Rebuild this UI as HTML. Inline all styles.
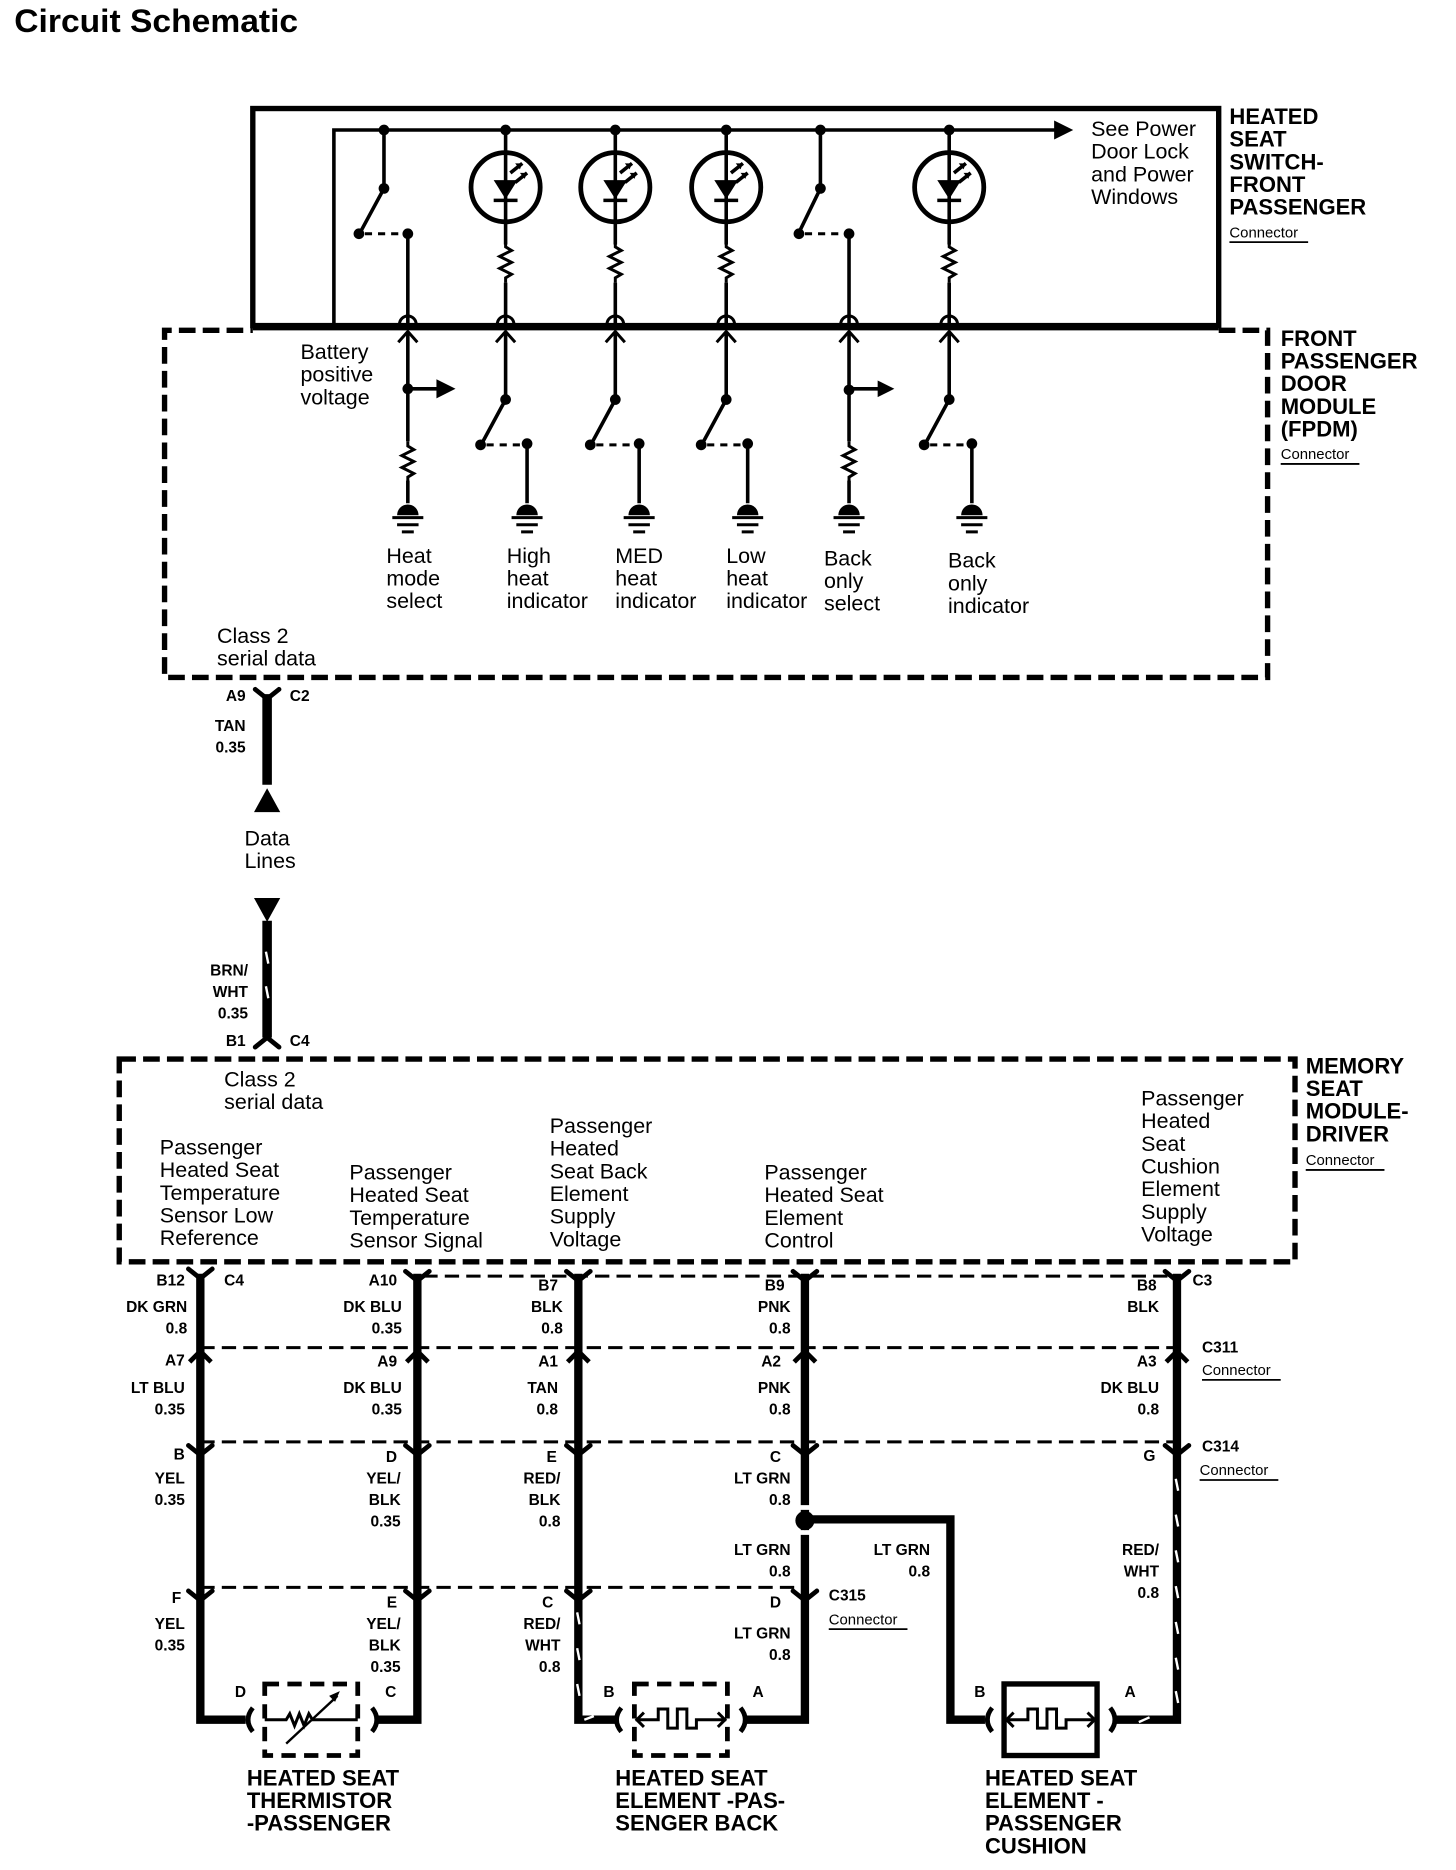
<!DOCTYPE html>
<html><head><meta charset="utf-8"><style>
html,body{margin:0;padding:0;background:#fff;}
svg{display:block;}
text{font-family:"Liberation Sans",Arial,sans-serif;fill:#000;}
.t{font-size:18px;}
.b{font-size:13px;font-weight:bold;}
.bl{font-size:18.5px;font-weight:bold;}
.c{font-size:12.5px;}
</style></head><body>
<svg width="1456" height="1870" viewBox="0 0 1221 1568" preserveAspectRatio="none" xmlns="http://www.w3.org/2000/svg">
<defs>
<g id="dot"><circle r="4.5" fill="#000"/></g>
<path id="res" d="M0,0 l0,4 l5,3 l-10,5 l10,5 l-10,5 l10,5 l-5,3 l0,4" fill="none" stroke="#000" stroke-width="2.5"/>
<g id="gnd"><path d="M-9,0 a9,9 0 0 1 18,0 z" fill="#000"/><path d="M-13,2 h26 M-9,8 h18 M-5,14 h10" stroke="#000" stroke-width="2.5"/></g>
<g id="led"><circle r="29" fill="none" stroke="#000" stroke-width="4"/><path d="M-10,-6 h20 l-10,16 z" fill="#000"/><path d="M-10,11 h20" stroke="#000" stroke-width="3"/><path d="M4,-12 l10,-8 M8,-4 l10,-8" stroke="#000" stroke-width="3"/><path d="M14,-20 l-6,0 l4,5z M18,-12 l-6,0 l4,5z" fill="#000"/></g>
<g id="conn"><path d="M-7,-1 a7,7 0 0 1 14,0" fill="none" stroke="#000" stroke-width="2.5"/><path d="M-8,14 l8,-9 l8,9" fill="none" stroke="#000" stroke-width="2.5"/></g>
<g id="vv"><path d="M-10,-6 l10,8 l10,-8" fill="none" stroke="#000" stroke-width="4" stroke-linecap="round"/></g>
<g id="up"><path d="M-9,8 l9,-9 l9,9" fill="none" stroke="#000" stroke-width="4"/></g>
</defs>

<text x="12" y="27" textLength="238" lengthAdjust="spacingAndGlyphs" style="font-size:27px;font-weight:bold">Circuit Schematic</text>

<rect x="212" y="91" width="810" height="182" fill="none" stroke="#000" stroke-width="4.5"/>
<path d="M1022,277 H1063 V568 H138 V277 H212" fill="none" stroke="#000" stroke-width="4.5" stroke-dasharray="14,6"/>
<path d="M212,274 H1022" stroke="#000" stroke-width="6"/>

<path d="M280,273 V109 H886" fill="none" stroke="#000" stroke-width="3"/>
<path d="M884,101 l16,8 l-16,8z" fill="#000"/>

<use href="#dot" x="322" y="109"/>
<path d="M322,109 V158 L302,195" fill="none" stroke="#000" stroke-width="3"/>
<use href="#dot" x="322" y="158"/><use href="#dot" x="301" y="196"/>
<path d="M306,196 H338" stroke="#000" stroke-width="2.5" stroke-dasharray="6,5"/>
<use href="#dot" x="342" y="196"/>
<path d="M342,196 V273" stroke="#000" stroke-width="3"/>
<use href="#dot" x="688" y="109"/>
<path d="M688,109 V158 L670,195" fill="none" stroke="#000" stroke-width="3"/>
<use href="#dot" x="688" y="158"/><use href="#dot" x="670" y="196"/>
<path d="M675,196 H708" stroke="#000" stroke-width="2.5" stroke-dasharray="6,5"/>
<use href="#dot" x="712" y="196"/>
<path d="M712,196 V273" stroke="#000" stroke-width="3"/>
<g stroke="#000" stroke-width="3">
<path d="M424,109 V205 M424,237 V273"/><path d="M516,109 V205 M516,237 V273"/><path d="M609,109 V205 M609,237 V273"/><path d="M796,109 V205 M796,237 V273"/>
</g>
<use href="#dot" x="424" y="109"/><use href="#dot" x="516" y="109"/><use href="#dot" x="609" y="109"/><use href="#dot" x="796" y="109"/>
<use href="#led" x="424" y="157"/><use href="#led" x="516" y="157"/><use href="#led" x="609" y="157"/><use href="#led" x="796" y="157"/>
<use href="#res" x="424" y="203"/><use href="#res" x="516" y="203"/><use href="#res" x="609" y="203"/><use href="#res" x="796" y="203"/>
<use href="#conn" x="342" y="273"/><use href="#conn" x="424" y="273"/><use href="#conn" x="516" y="273"/><use href="#conn" x="609" y="273"/><use href="#conn" x="712" y="273"/><use href="#conn" x="796" y="273"/>

<g stroke="#000" stroke-width="3" fill="none">
<path d="M342,278 V370 M342,403 V422"/>
<path d="M342,326 H368"/>
<path d="M712,278 V370 M712,403 V422"/>
<path d="M712,326 H738"/>
<path d="M424,278 V335 L404,372"/><path d="M516,278 V335 L496,372"/><path d="M609,278 V335 L589,372"/><path d="M796,278 V335 L776,372"/>
<path d="M442,372 V422 M536,372 V422 M627,372 V422 M815,372 V422"/>
</g>
<path d="M366,318 l16,8 l-16,8z" fill="#000"/><path d="M736,319 l14,7 l-14,7z" fill="#000"/>
<use href="#dot" x="342" y="326"/><use href="#dot" x="712" y="327"/>
<use href="#res" x="342" y="370"/><use href="#res" x="712" y="370"/>
<g stroke="#000" stroke-width="2.5" stroke-dasharray="6,5">
<path d="M408,373 H438"/><path d="M500,373 H532"/><path d="M593,373 H623"/><path d="M780,373 H811"/>
</g>
<use href="#dot" x="424" y="335"/><use href="#dot" x="516" y="335"/><use href="#dot" x="609" y="335"/><use href="#dot" x="796" y="335"/>
<use href="#dot" x="403" y="373"/><use href="#dot" x="495" y="373"/><use href="#dot" x="588" y="373"/><use href="#dot" x="775" y="373"/>
<use href="#dot" x="442" y="372"/><use href="#dot" x="536" y="372"/><use href="#dot" x="627" y="372"/><use href="#dot" x="815" y="372"/>
<use href="#gnd" x="342" y="432"/><use href="#gnd" x="442" y="432"/><use href="#gnd" x="536" y="432"/><use href="#gnd" x="627" y="432"/><use href="#gnd" x="712" y="432"/><use href="#gnd" x="815" y="432"/>

<g class="t">
<text x="915" y="114">See Power</text><text x="915" y="133">Door Lock</text><text x="915" y="152">and Power</text><text x="915" y="171">Windows</text>
<text x="252" y="301">Battery</text><text x="252" y="320">positive</text><text x="252" y="339">voltage</text>
<text x="324" y="472">Heat</text><text x="324" y="491">mode</text><text x="324" y="510">select</text>
<text x="425" y="472">High</text><text x="425" y="491">heat</text><text x="425" y="510">indicator</text>
<text x="516" y="472">MED</text><text x="516" y="491">heat</text><text x="516" y="510">indicator</text>
<text x="609" y="472">Low</text><text x="609" y="491">heat</text><text x="609" y="510">indicator</text>
<text x="691" y="474">Back</text><text x="691" y="493">only</text><text x="691" y="512">select</text>
<text x="795" y="476">Back</text><text x="795" y="495">only</text><text x="795" y="514">indicator</text>
<text x="182" y="539">Class 2</text><text x="182" y="558">serial data</text>
</g>
<g class="bl">
<text x="1031" y="104">HEATED</text><text x="1031" y="123">SEAT</text><text x="1031" y="142">SWITCH-</text><text x="1031" y="161">FRONT</text><text x="1031" y="180">PASSENGER</text>
<text x="1074" y="290">FRONT</text><text x="1074" y="309">PASSENGER</text><text x="1074" y="328">DOOR</text><text x="1074" y="347">MODULE</text><text x="1074" y="366">(FPDM)</text>
<text x="1095" y="900">MEMORY</text><text x="1095" y="919">SEAT</text><text x="1095" y="938">MODULE-</text><text x="1095" y="957">DRIVER</text>
</g>
<text class="c" x="1031" y="199">Connector</text><path d="M1031,203 H1097" stroke="#000" stroke-width="1.5"/>
<text class="c" x="1074" y="385">Connector</text><path d="M1074,389 H1140" stroke="#000" stroke-width="1.5"/>
<text class="c" x="1095" y="977">Connector</text><path d="M1095,981 H1161" stroke="#000" stroke-width="1.5"/>

<path d="M224,582 V658" stroke="#000" stroke-width="8"/>
<use href="#vv" x="224" y="584"/>
<path d="M213,681 l11,-20 l11,20z" fill="#000"/>
<path d="M213,753 h22 l-11,20z" fill="#000"/>
<path d="M224,772 V870" stroke="#000" stroke-width="8"/>
<path d="M223,798 l2,10 M223,827 l2,10" stroke="#fff" stroke-width="2"/>
<path d="M214,878 l10,-8 l10,8" fill="none" stroke="#000" stroke-width="4" stroke-linecap="round"/>
<g class="b"><text x="206" y="588" text-anchor="end">A9</text><text x="243" y="588">C2</text>
<text x="206" y="613" text-anchor="end">TAN</text><text x="206" y="631" text-anchor="end">0.35</text>
<text x="208" y="818" text-anchor="end">BRN/</text><text x="208" y="836" text-anchor="end">WHT</text><text x="208" y="854" text-anchor="end">0.35</text>
<text x="206" y="877" text-anchor="end">B1</text><text x="243" y="877">C4</text></g>
<text class="t" x="205" y="709">Data</text><text class="t" x="205" y="728">Lines</text>

<path d="M100,888 H1086 V1058 H100 Z" fill="none" stroke="#000" stroke-width="4.5" stroke-dasharray="14,6"/>
<g class="t">
<text x="188" y="911">Class 2</text><text x="188" y="930">serial data</text>
<text x="134" y="968">Passenger</text><text x="134" y="987">Heated Seat</text><text x="134" y="1006">Temperature</text><text x="134" y="1025">Sensor Low</text><text x="134" y="1044">Reference</text>
<text x="293" y="989">Passenger</text><text x="293" y="1008">Heated Seat</text><text x="293" y="1027">Temperature</text><text x="293" y="1046">Sensor Signal</text>
<text x="461" y="950">Passenger</text><text x="461" y="969">Heated</text><text x="461" y="988">Seat Back</text><text x="461" y="1007">Element</text><text x="461" y="1026">Supply</text><text x="461" y="1045">Voltage</text>
<text x="641" y="989">Passenger</text><text x="641" y="1008">Heated Seat</text><text x="641" y="1027">Element</text><text x="641" y="1046">Control</text>
<text x="957" y="927">Passenger</text><text x="957" y="946">Heated</text><text x="957" y="965">Seat</text><text x="957" y="984">Cushion</text><text x="957" y="1003">Element</text><text x="957" y="1022">Supply</text><text x="957" y="1041">Voltage</text>
</g>

<g stroke="#000" stroke-width="2.5" stroke-dasharray="12,6">
<path d="M355,1070 H980"/><path d="M168,1130 H987"/><path d="M168,1209 H987"/><path d="M168,1331 H675"/>
</g>
<g stroke="#000" stroke-width="7" fill="none">
<path d="M168,1068 V1442 H206"/>
<path d="M350,1068 V1442 H316"/>
<path d="M485,1068 V1442 H516"/>
<path d="M675,1068 V1442 H626"/>
<path d="M987,1068 V1442 H936"/>
<path d="M675,1274 H797 V1442 H826"/>
</g>
<path d="M675,1262 V1266 M675,1283 V1287" stroke="#fff" stroke-width="9"/>
<circle cx="675" cy="1275" r="8" fill="#000"/>
<g stroke="#fff" stroke-width="2">
<path d="M484,1352 l2,10 M484,1382 l2,10 M484,1412 l2,10"/>
<path d="M490,1442 l8,-3"/>
<path d="M986,1240 l2,10 M986,1270 l2,10 M986,1300 l2,10 M986,1330 l2,10 M986,1360 l2,10 M986,1390 l2,10 M986,1418 l2,10"/>
<path d="M955,1444 l9,-4"/>
</g>
<g>
<use href="#vv" x="168" y="1070"/><use href="#vv" x="350" y="1072"/><use href="#vv" x="485" y="1072"/><use href="#vv" x="675" y="1072"/><use href="#vv" x="987" y="1072"/>
<use href="#up" x="168" y="1134"/><use href="#up" x="350" y="1134"/><use href="#up" x="485" y="1134"/><use href="#up" x="675" y="1134"/><use href="#up" x="987" y="1134"/>
<use href="#vv" x="168" y="1218"/><use href="#vv" x="350" y="1218"/><use href="#vv" x="485" y="1218"/><use href="#vv" x="675" y="1218"/><use href="#vv" x="987" y="1218"/>
<use href="#vv" x="168" y="1340"/><use href="#vv" x="350" y="1340"/><use href="#vv" x="485" y="1340"/><use href="#vv" x="675" y="1340"/>
</g>
<g class="b">
<text x="155" y="1078" text-anchor="end">B12</text><text x="188" y="1078">C4</text><text x="157" y="1100" text-anchor="end">DK GRN</text><text x="157" y="1118" text-anchor="end">0.8</text>
<text x="155" y="1145" text-anchor="end">A7</text><text x="155" y="1168" text-anchor="end">LT BLU</text><text x="155" y="1186" text-anchor="end">0.35</text>
<text x="155" y="1224" text-anchor="end">B</text><text x="155" y="1244" text-anchor="end">YEL</text><text x="155" y="1262" text-anchor="end">0.35</text>
<text x="152" y="1344" text-anchor="end">F</text><text x="155" y="1366" text-anchor="end">YEL</text><text x="155" y="1384" text-anchor="end">0.35</text>

<text x="333" y="1078" text-anchor="end">A10</text><text x="337" y="1100" text-anchor="end">DK BLU</text><text x="337" y="1118" text-anchor="end">0.35</text>
<text x="333" y="1146" text-anchor="end">A9</text><text x="337" y="1168" text-anchor="end">DK BLU</text><text x="337" y="1186" text-anchor="end">0.35</text>
<text x="333" y="1226" text-anchor="end">D</text><text x="336" y="1244" text-anchor="end">YEL/</text><text x="336" y="1262" text-anchor="end">BLK</text><text x="336" y="1280" text-anchor="end">0.35</text>
<text x="333" y="1348" text-anchor="end">E</text><text x="336" y="1366" text-anchor="end">YEL/</text><text x="336" y="1384" text-anchor="end">BLK</text><text x="336" y="1402" text-anchor="end">0.35</text>

<text x="468" y="1082" text-anchor="end">B7</text><text x="472" y="1100" text-anchor="end">BLK</text><text x="472" y="1118" text-anchor="end">0.8</text>
<text x="468" y="1146" text-anchor="end">A1</text><text x="468" y="1168" text-anchor="end">TAN</text><text x="468" y="1186" text-anchor="end">0.8</text>
<text x="467" y="1226" text-anchor="end">E</text><text x="470" y="1244" text-anchor="end">RED/</text><text x="470" y="1262" text-anchor="end">BLK</text><text x="470" y="1280" text-anchor="end">0.8</text>
<text x="464" y="1348" text-anchor="end">C</text><text x="470" y="1366" text-anchor="end">RED/</text><text x="470" y="1384" text-anchor="end">WHT</text><text x="470" y="1402" text-anchor="end">0.8</text>

<text x="658" y="1082" text-anchor="end">B9</text><text x="663" y="1100" text-anchor="end">PNK</text><text x="663" y="1118" text-anchor="end">0.8</text>
<text x="655" y="1146" text-anchor="end">A2</text><text x="663" y="1168" text-anchor="end">PNK</text><text x="663" y="1186" text-anchor="end">0.8</text>
<text x="655" y="1226" text-anchor="end">C</text><text x="663" y="1244" text-anchor="end">LT GRN</text><text x="663" y="1262" text-anchor="end">0.8</text>
<text x="663" y="1304" text-anchor="end">LT GRN</text><text x="663" y="1322" text-anchor="end">0.8</text>
<text x="655" y="1348" text-anchor="end">D</text><text x="663" y="1374" text-anchor="end">LT GRN</text><text x="663" y="1392" text-anchor="end">0.8</text>
<text x="780" y="1304" text-anchor="end">LT GRN</text><text x="780" y="1322" text-anchor="end">0.8</text>
<text x="695" y="1342">C315</text>

<text x="970" y="1082" text-anchor="end">B8</text><text x="972" y="1100" text-anchor="end">BLK</text><text x="1000" y="1078">C3</text>
<text x="970" y="1146" text-anchor="end">A3</text><text x="972" y="1168" text-anchor="end">DK BLU</text><text x="972" y="1186" text-anchor="end">0.8</text>
<text x="1008" y="1134">C311</text>
<text x="969" y="1225" text-anchor="end">G</text><text x="1008" y="1217">C314</text>
<text x="972" y="1304" text-anchor="end">RED/</text><text x="972" y="1322" text-anchor="end">WHT</text><text x="972" y="1340" text-anchor="end">0.8</text>

<text x="197" y="1423">D</text><text x="323" y="1423">C</text>
<text x="506" y="1423">B</text><text x="631" y="1423">A</text>
<text x="817" y="1423">B</text><text x="943" y="1423">A</text>
</g>
<text class="c" x="695" y="1362">Connector</text><path d="M695,1366 H761" stroke="#000" stroke-width="1.5"/>
<text class="c" x="1008" y="1153">Connector</text><path d="M1008,1157 H1074" stroke="#000" stroke-width="1.5"/>
<text class="c" x="1006" y="1237">Connector</text><path d="M1006,1241 H1072" stroke="#000" stroke-width="1.5"/>

<g fill="none" stroke="#000" stroke-width="4">
<path d="M212,1432 q-8,10 0,20"/><path d="M312,1432 q8,10 0,20"/>
<path d="M521,1432 q-8,10 0,20"/><path d="M621,1432 q8,10 0,20"/>
<path d="M832,1432 q-8,10 0,20"/><path d="M931,1432 q8,10 0,20"/>
</g>
<rect x="222" y="1412" width="78" height="60" fill="none" stroke="#000" stroke-width="4" stroke-dasharray="12,7"/>
<path d="M222,1442 H240 l3,-5 l4,10 l4,-10 l4,10 l4,-10 l3,5 H300" fill="none" stroke="#000" stroke-width="2.5"/>
<path d="M240,1462 L283,1422" stroke="#000" stroke-width="2"/><path d="M285,1418 l-9,4 l5,5z" fill="#000"/>
<rect x="532" y="1412" width="78" height="60" fill="none" stroke="#000" stroke-width="4" stroke-dasharray="12,7"/>
<path d="M533,1442 H552 V1433 H560 V1449 H568 V1433 H576 V1449 H584 V1442 H609" fill="none" stroke="#000" stroke-width="2.5"/>
<path d="M540,1436 l-6,6 l6,6 M602,1436 l6,6 l-6,6" fill="none" stroke="#000" stroke-width="2.5"/>
<rect x="842" y="1412" width="78" height="60" fill="none" stroke="#000" stroke-width="4.5"/>
<path d="M843,1442 H862 V1433 H870 V1449 H878 V1433 H886 V1449 H894 V1442 H919" fill="none" stroke="#000" stroke-width="2.5"/>
<path d="M850,1436 l-6,6 l6,6 M912,1436 l6,6 l-6,6" fill="none" stroke="#000" stroke-width="2.5"/>

<g class="bl">
<text x="207" y="1497">HEATED SEAT</text><text x="207" y="1516">THERMISTOR</text><text x="207" y="1535">-PASSENGER</text>
<text x="516" y="1497">HEATED SEAT</text><text x="516" y="1516">ELEMENT -PAS-</text><text x="516" y="1535">SENGER BACK</text>
<text x="826" y="1497">HEATED SEAT</text><text x="826" y="1516">ELEMENT -</text><text x="826" y="1535">PASSENGER</text><text x="826" y="1554">CUSHION</text>
</g>
</svg>
</body></html>
